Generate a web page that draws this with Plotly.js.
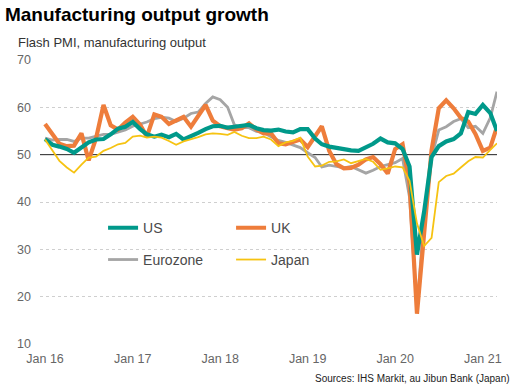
<!DOCTYPE html>
<html>
<head>
<meta charset="utf-8">
<script src="https://cdn.plot.ly/plotly-3.0.1.min.js"></script>
<style>
  html, body { margin: 0; padding: 0; background: #fff; }
  #chart { width: 524px; height: 392px; }
</style>
</head>
<body>
<div id="chart"></div>
<script>
const months = [
  '2016-01-01','2016-02-01','2016-03-01','2016-04-01','2016-05-01','2016-06-01','2016-07-01','2016-08-01','2016-09-01','2016-10-01','2016-11-01','2016-12-01',
  '2017-01-01','2017-02-01','2017-03-01','2017-04-01','2017-05-01','2017-06-01','2017-07-01','2017-08-01','2017-09-01','2017-10-01','2017-11-01','2017-12-01',
  '2018-01-01','2018-02-01','2018-03-01','2018-04-01','2018-05-01','2018-06-01','2018-07-01','2018-08-01','2018-09-01','2018-10-01','2018-11-01','2018-12-01',
  '2019-01-01','2019-02-01','2019-03-01','2019-04-01','2019-05-01','2019-06-01','2019-07-01','2019-08-01','2019-09-01','2019-10-01','2019-11-01','2019-12-01',
  '2020-01-01','2020-02-01','2020-03-01','2020-04-01','2020-05-01','2020-06-01','2020-07-01','2020-08-01','2020-09-01','2020-10-01','2020-11-01','2020-12-01',
  '2021-01-01','2021-02-01','2021-03-01'
];

const us = [
  53.3, 52.1, 51.7, 51.2, 50.4, 51.5, 52.6, 53.2, 53.3, 54.3, 55.5, 55.9,
  56.9, 55.4, 54.3, 53.8, 54.2, 53.7, 54.4, 53.2, 53.8, 54.6, 55.4, 56.0,
  56.1, 55.7, 55.9, 56.1, 56.3, 55.6, 55.2, 55.1, 55.3, 54.9, 54.7, 55.4,
  55.4, 53.4, 52.2, 51.7, 51.4, 51.3, 50.9, 50.8, 51.5, 52.3, 53.4, 52.6,
  52.4, 51.2, 47.5, 28.9, 38.0, 49.5, 51.8, 52.8, 53.3, 54.5, 59.0, 58.6,
  60.5, 58.8, 55.0
];

const uk = [
  56.5, 54.3, 52.3, 51.8, 51.9, 54.5, 48.8, 53.5, 60.5, 56.2, 55.3, 56.8,
  58.0, 56.3, 53.8, 58.5, 58.0, 56.5, 57.2, 58.0, 55.9, 58.0, 60.5, 57.2,
  56.0, 55.6, 55.3, 55.6, 56.6, 55.3, 54.5, 54.5, 52.4, 52.2, 52.8, 53.2,
  51.6, 54.0, 56.0, 50.8, 48.0, 47.1, 47.2, 47.9, 49.0, 49.5, 48.0, 46.0,
  51.2, 52.2, 44.0, 16.4, 33.0, 51.0, 59.8, 61.5, 59.8, 57.8, 57.0, 54.4,
  50.8, 51.5, 55.9
];

const eurozone = [
  53.5, 53.1, 53.2, 53.2, 52.8, 53.5, 53.5, 53.9, 54.3, 54.3, 54.7, 55.2,
  56.0, 56.4, 56.9, 57.6, 57.9, 57.7, 57.0, 57.7, 58.7, 59.0, 60.8, 62.2,
  61.6, 60.0, 56.3, 55.7, 55.7, 54.9, 54.7, 53.8, 53.0, 52.6, 52.1, 51.5,
  50.4, 49.4, 47.4, 47.8, 47.5, 47.2, 47.5, 46.8, 46.1, 46.7, 47.5, 47.9,
  48.3, 49.2, 41.0, 17.5, 37.0, 49.5, 55.2, 55.9, 57.0, 57.6, 55.7, 56.0,
  54.5, 57.8, 63.3
];

const japan = [
  53.2, 51.0, 48.7, 47.3, 46.2, 47.9, 49.4, 49.6, 50.8, 51.4, 52.2, 52.5,
  53.8, 54.0, 53.6, 53.8, 53.6, 52.9, 52.1, 52.8, 53.2, 53.7, 54.3, 54.5,
  54.4, 54.2, 54.8, 54.0, 53.5, 53.5, 53.8, 53.2, 51.8, 52.6, 52.9, 53.6,
  49.6, 47.5, 47.7, 48.5, 48.6, 49.0, 48.2, 48.6, 49.1, 48.5, 46.8, 47.1,
  47.5, 47.3, 44.5, 35.5, 30.7, 32.4, 44.2, 45.5, 46.0, 47.3, 48.6, 49.5,
  49.4, 51.0, 52.4
];

const yTicks = [10, 20, 30, 40, 50, 60, 70];
const gridTicks = [10, 20, 30, 40, 60, 70];
const threshold = 50;
const FONT = '"Liberation Sans", Arial, sans-serif';

const traces = [
  { x: months, y: eurozone, name: 'Eurozone', type: 'scatter', mode: 'lines',
    line: { color: '#a5a5a5', width: 2.8 }, legend: 'legend2', legendrank: 1 },
  { x: months, y: uk, name: 'UK', type: 'scatter', mode: 'lines',
    line: { color: '#ee7d3b', width: 4.2 }, legend: 'legend', legendrank: 2 },
  { x: months, y: us, name: 'US', type: 'scatter', mode: 'lines',
    line: { color: '#00998a', width: 4.2 }, legend: 'legend', legendrank: 1 },
  { x: months, y: japan, name: 'Japan', type: 'scatter', mode: 'lines',
    line: { color: '#f6c312', width: 1.8 }, legend: 'legend2', legendrank: 2 }
];

const legendCommon = {
  orientation: 'h', xref: 'paper', yref: 'paper', xanchor: 'left', yanchor: 'middle',
  bgcolor: 'rgba(0,0,0,0)', borderwidth: 0, entrywidth: 83, itemwidth: 30,
  font: { family: FONT, size: 14, color: '#4a4a4a' }
};

const tickFont = { family: FONT, size: 12.5, color: '#666' };

const layout = {
  width: 524, height: 392,
  margin: { l: 40, r: 27, t: 60, b: 48 },
  paper_bgcolor: '#ffffff', plot_bgcolor: '#ffffff',
  font: { family: FONT, color: '#444' },
  title: {
    text: '<b>Manufacturing output growth</b>',
    font: { family: FONT, size: 19, color: '#000' },
    xref: 'container', yref: 'container', x: 0.0095, xanchor: 'left', y: 0.963, yanchor: 'middle'
  },
  xaxis: {
    type: 'date', range: ['2015-12-11', '2021-03-01'],
    tick0: '2016-01-01', dtick: 'M12', tickformat: '%b %y',
    showgrid: false, zeroline: false, showline: false, ticks: '', ticklabelstandoff: 5,
    tickfont: tickFont
  },
  yaxis: {
    range: [10, 70], tickmode: 'array', tickvals: yTicks,
    showgrid: false,
    minor: { tickmode: 'array', tickvals: gridTicks, showgrid: true,
             gridcolor: '#cfcfcf', griddash: 'dot', gridwidth: 1, ticks: '' },
    zeroline: false, showline: false, ticks: '', ticklabelstandoff: 8,
    tickfont: tickFont
  },
  shapes: [
    { type: 'line', xref: 'paper', x0: 0, x1: 1, yref: 'y', y0: threshold, y1: threshold,
      line: { color: '#222', width: 1 }, layer: 'between' }
  ],
  legend: Object.assign({}, legendCommon, { x: 0.138, y: 0.408 }),
  legend2: Object.assign({}, legendCommon, { x: 0.138, y: 0.296 }),
  annotations: [
    { text: 'Flash PMI, manufacturing output', xref: 'paper', yref: 'paper',
      x: -0.0525, xanchor: 'left', y: 1.06, yanchor: 'middle', showarrow: false,
      font: { family: FONT, size: 13, color: '#333' } },
    { text: 'Sources: IHS Markit, au Jibun Bank (Japan)', xref: 'paper', yref: 'paper',
      x: 1.0328, xanchor: 'right', y: -0.123, yanchor: 'middle', showarrow: false,
      font: { family: FONT, size: 10, color: '#222' } }
  ],
  showlegend: true
};

Plotly.newPlot('chart', traces, layout, { staticPlot: true, displayModeBar: false });
</script>
</body>
</html>
